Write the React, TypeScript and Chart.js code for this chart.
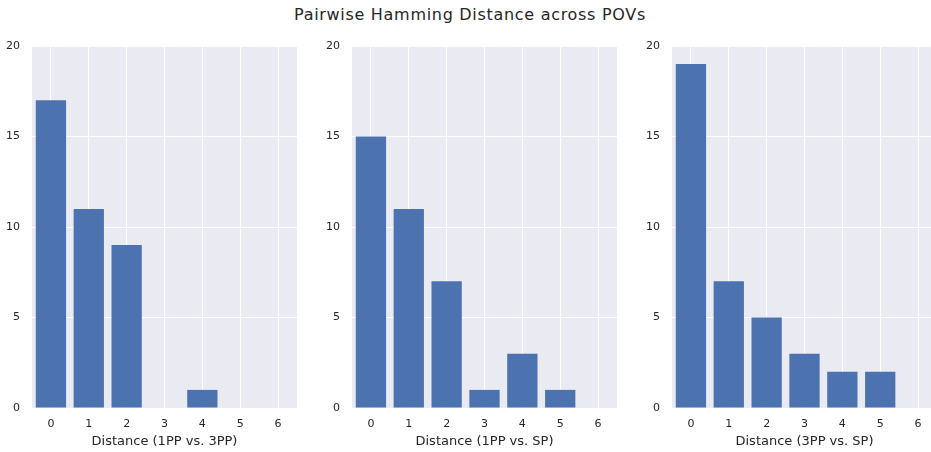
import React, { useEffect, useRef } from 'react';
import { Chart, registerables } from 'chart.js';

Chart.register(...registerables);

const categories = ['0', '1', '2', '3', '4', '5', '6'];
const counts1PPvs3PP = [17, 11, 9, 0, 1, 0, 0];
const counts1PPvsSP = [15, 11, 7, 1, 3, 1, 0];
const counts3PPvsSP = [19, 7, 5, 3, 2, 2, 0];
const panelLabels = ['Distance (1PP vs. 3PP)', 'Distance (1PP vs. SP)', 'Distance (3PP vs. SP)'];
const panelSeries = [counts1PPvs3PP, counts1PPvsSP, counts3PPvsSP];
const yMin = 0;
const yMax = 20;
const yStep = 5;
const titleText = 'Pairwise Hamming Distance across POVs';

const FONT = "'DejaVu Sans', sans-serif";
const TEXT = '#262626';
const BG = '#EAEAF2';
const BAR = '#4C72B0';

const CANVAS_W = 297;
const CANVAS_H = 452;
const Y_AXIS_W = 32;
const X_AXIS_H = 44;
const TOP_PAD = 46;

const bgPlugin = {
  id: 'plotBg',
  beforeDraw(chart: any) {
    const { ctx, chartArea } = chart;
    if (!chartArea) return;
    ctx.save();
    ctx.fillStyle = BG;
    ctx.fillRect(chartArea.left, chartArea.top, chartArea.right - chartArea.left, chartArea.bottom - chartArea.top);
    ctx.restore();
  },
};

function Panel({ values, label, left }: { values: number[]; label: string; left: number }) {
  const ref = useRef<HTMLCanvasElement>(null);
  useEffect(() => {
    if (!ref.current) return;
    const chart = new Chart(ref.current, {
      type: 'bar',
      data: {
        labels: categories,
        datasets: [
          {
            data: values,
            backgroundColor: BAR,
            borderWidth: 0,
            barPercentage: 0.8,
            categoryPercentage: 1.0,
          },
        ],
      },
      options: {
        responsive: false,
        animation: false,
        devicePixelRatio: 1,
        layout: { padding: { top: TOP_PAD, right: 0, bottom: 0, left: 0 } },
        plugins: {
          legend: { display: false },
          tooltip: { enabled: false },
          title: { display: false },
        },
        scales: {
          x: {
            type: 'category',
            offset: true,
            border: { display: false },
            grid: { color: '#FFFFFF', lineWidth: 1, offset: false, drawTicks: false },
            ticks: { color: TEXT, font: { family: FONT, size: 11 }, padding: 10, maxRotation: 0 },
            title: {
              display: true,
              text: label,
              color: TEXT,
              font: { family: FONT, size: 13 },
              padding: { top: 0, bottom: 3 },
            },
            afterFit: (s: any) => {
              s.height = X_AXIS_H;
            },
          },
          y: {
            min: yMin,
            max: yMax,
            border: { display: false },
            grid: { color: '#FFFFFF', lineWidth: 1, drawTicks: false },
            ticks: { stepSize: yStep, color: TEXT, font: { family: FONT, size: 11 }, padding: 12 },
            afterFit: (s: any) => {
              s.width = Y_AXIS_W;
            },
          },
        },
      },
      plugins: [bgPlugin],
    });
    return () => chart.destroy();
  }, [values, label]);
  return (
    <canvas
      ref={ref}
      width={CANVAS_W}
      height={CANVAS_H}
      style={{ position: 'absolute', left, top: 0, width: CANVAS_W, height: CANVAS_H }}
    />
  );
}

export default function App() {
  return (
    <div
      style={{
        position: 'absolute',
        left: 0,
        top: 0,
        width: 931,
        height: 452,
        overflow: 'hidden',
        background: '#FFFFFF',
      }}
    >
      <div
        style={{
          position: 'absolute',
          left: 0,
          top: 5,
          width: 940,
          textAlign: 'center',
          fontFamily: FONT,
          fontSize: 16,
          letterSpacing: '0.7px',
          lineHeight: '20px',
          color: TEXT,
          whiteSpace: 'nowrap',
        }}
      >
        {titleText}
      </div>
      {panelSeries.map((vals, i) => (
        <Panel key={i} values={vals} label={panelLabels[i]} left={i * 320} />
      ))}
    </div>
  );
}
